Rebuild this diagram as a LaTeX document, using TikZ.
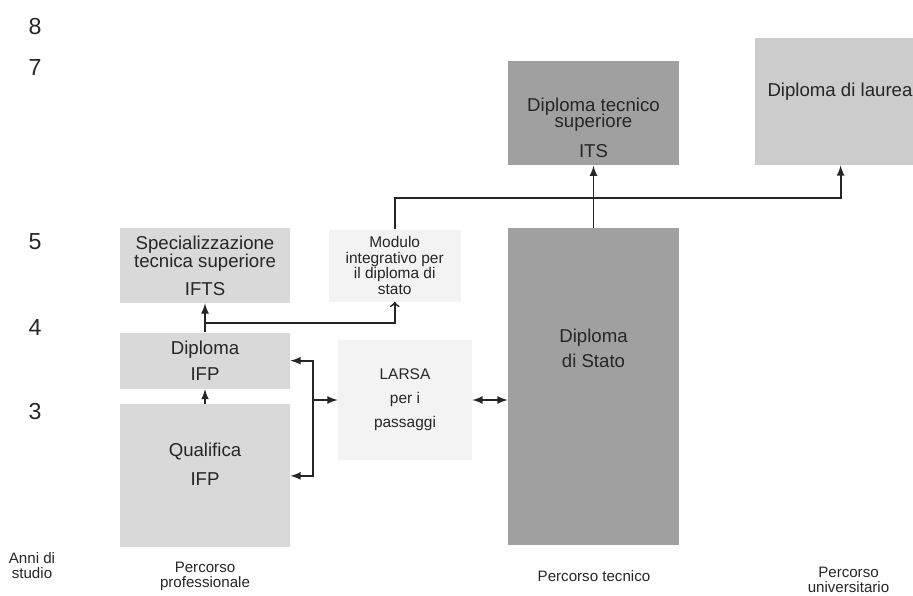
\documentclass[tikz,border=0pt]{standalone}
\usepackage{fontspec}
\setmainfont{Liberation Sans}
\usetikzlibrary{positioning,calc}
\definecolor{pale}{HTML}{F3F3F3}
\definecolor{light}{HTML}{D9D9D9}
\definecolor{mid}{HTML}{CCCCCC}
\definecolor{dark}{HTML}{A0A0A0}
\definecolor{ink}{HTML}{262626}
\tikzset{
    block/.style={
           rectangle,
           fill=light,
           inner sep=0pt,
           minimum width=3.4cm,
           text centered,
           align=center,
           text=ink,
           font=\fontsize{10.6}{10.2}\selectfont
           },
    note/.style={
           block,
           fill=pale,
           font=\fontsize{8.8}{9}\selectfont
           },
    caption/.style={
           text=ink,
           align=center,
           inner sep=0pt,
           font=\fontsize{10.6}{10.2}\selectfont
           },
    year/.style={
           text=ink,
           inner sep=0pt,
           font=\fontsize{13.2}{14}\selectfont
           },
    foot/.style={
           text=ink,
           align=center,
           inner sep=0pt,
           % font=\small,
           font=\fontsize{8.6}{8.6}\selectfont
           },
    flow/.style={
           draw=ink,
           line width=1pt
           }
}

\begin{document}
\begin{tikzpicture}[>=latex]
   \useasboundingbox (0,0) rectangle (18.26,-11.92);
   \clip (0,0) rectangle (18.26,-11.92);

   % boxes
   \node[block, minimum height=1.5cm] (ifts) at (4.1,-5.31) {Specializzazione\\tecnica superiore\\[5.7pt]IFTS};
   \node[block, minimum height=1.12cm] (dipifp) [below=0.58cm of ifts] {Diploma\\[5pt]IFP};
   \node[block, minimum height=2.86cm] (qualifica) [below=0.3cm of dipifp] {};
   \node[note, minimum width=2.64cm, minimum height=1.44cm] (modulo) [right=0.76cm of ifts] {Modulo\\integrativo per\\il diploma di\\stato};
   \node[note, minimum width=2.68cm, minimum height=2.4cm] (larsa) at (8.1,-8.0) {LARSA\\[4.6pt]per i\\[4.6pt]passaggi};
   \node[block, fill=dark, minimum width=3.42cm, minimum height=6.34cm] (stato) at (11.87,-7.73) {};
   \node[block, fill=dark, minimum width=3.42cm, minimum height=2.08cm] (its) [above=1.24cm of stato] {};
   \node[block, fill=mid, minimum height=2.54cm] (laurea) at (16.8,-2.03) {};

   % texts placed off centre
   \node[caption] (qualtext)   at ($(qualifica.center)+(0,0.24)$) {Qualifica\\[6.2pt]IFP};
   \node[caption] (statotext)  at ($(stato.center)+(0,0.76)$)     {Diploma\\[4pt]di Stato};
   \node[caption] (itstext)    at ($(its.center)+(0,-0.29)$)      {Diploma tecnico\\[-0.6pt]superiore\\[6.8pt]ITS};
   \node[caption] (laureatext) at ($(laurea.center)+(0,0.19)$)    {Diploma di laurea};

   % years
   \node[year] (y8) at (0.7,-0.54) {8};
   \node[year] (y7) at (0.7,-1.36) {7};
   \node[year] (y5) at (0.7,-4.84) {5};
   \node[year] (y4) at (0.7,-6.56) {4};
   \node[year] (y3) at (0.7,-8.24) {3};

   % paths of study
   \node[foot] (anni)  at (0.64,-11.31)  {Anni di\\studio};
   \node[foot] (prof)  at (4.1,-11.53)   {Percorso\\professionale};
   \node[foot] (tecn)  at (11.88,-11.52) {Percorso tecnico};
   \node[foot] (univ)  at (16.97,-11.6)  {Percorso\\universitario};

   \coordinate (split)    at ($(dipifp.north)!0.31!(ifts.south)$);
   \coordinate (fork)     at ([xshift=0.46cm]dipifp.east |- larsa.west);
   \coordinate (laureain) at ($(laurea.south west)+(1.72,0)$);

   \draw[flow,->] (qualifica.north) -- (dipifp.south);
   \draw[flow,->] (dipifp.north) -- (ifts.south);
   \draw[flow,-to] (split) -| (modulo.south);
   \draw[flow,<->] (dipifp.east) -- ++(0.46,0) |- (qualifica.east);
   \draw[flow,->] (fork) -- (larsa.west);
   \draw[flow,<->] (larsa.east) -- (larsa.east -| stato.west);
   \draw[flow,->] (stato.north) -- (its.south);
   \draw[flow,->] (modulo.north) -- ++(0,0.62) -| (laureain);
\end{tikzpicture}
\end{document}
